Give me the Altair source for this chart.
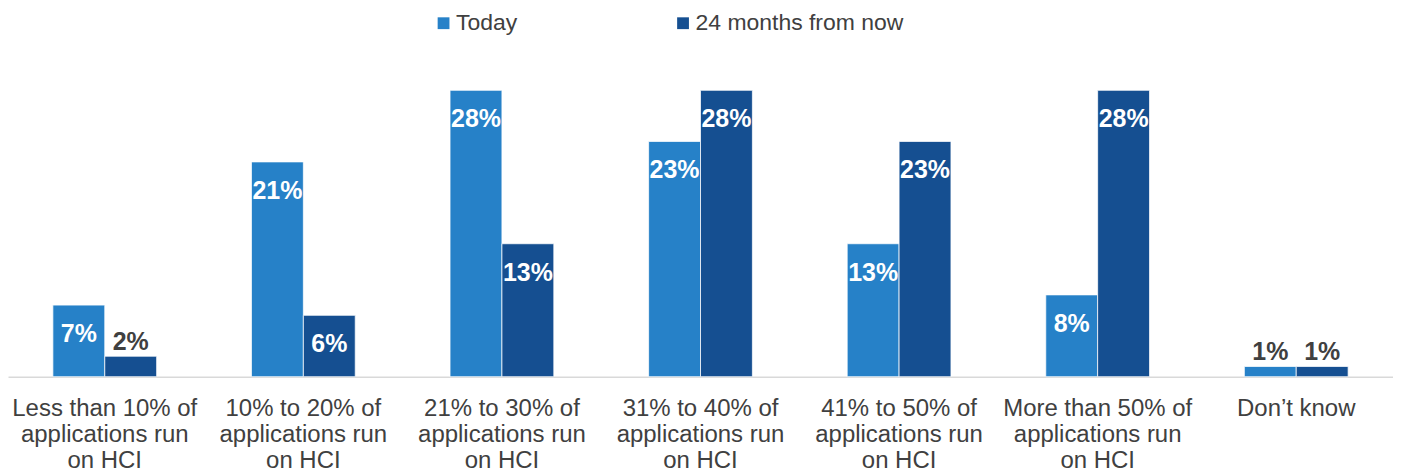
import altair as alt
import pandas as pd

categories = [
    "Less than 10% of|applications run|on HCI",
    "10% to 20% of|applications run|on HCI",
    "21% to 30% of|applications run|on HCI",
    "31% to 40% of|applications run|on HCI",
    "41% to 50% of|applications run|on HCI",
    "More than 50% of|applications run|on HCI",
    "Don\u2019t know",
]
series = ["Today", "24 months from now"]
today = [7, 21, 28, 23, 13, 8, 1]
months24 = [2, 6, 13, 28, 23, 28, 1]
colors = ["#2681C8", "#154F91"]

rows = []
for c, a, b in zip(categories, today, months24):
    rows.append({"cat": c, "series": series[0], "value": a})
    rows.append({"cat": c, "series": series[1], "value": b})
df = pd.DataFrame(rows)
df["label"] = df["value"].astype(str) + "%"

FONT = "Liberation Sans"

x = alt.X(
    "cat:N",
    sort=categories,
    scale=alt.Scale(paddingInner=0.4774, paddingOuter=0.226),
    axis=alt.Axis(
        title=None,
        labelExpr="split(datum.label, '|')",
        labelFontSize=24,
        labelFont=FONT,
        labelColor="#404040",
        labelLineHeight=26,
        labelPadding=20,
        labelBaseline="top",
        labelLimit=0,
        labelAngle=0,
        ticks=False,
        domainColor="#D9D9D9",
        domainWidth=1.5,
    ),
)
xo = alt.XOffset("series:N", sort=series, scale=alt.Scale(paddingInner=0))
y = alt.Y("value:Q", scale=alt.Scale(domain=[0, 28], nice=False), axis=None)

base = alt.Chart(df)

bars = base.mark_bar(stroke="white", strokeWidth=0.75).encode(
    x=x,
    xOffset=xo,
    y=y,
    color=alt.Color(
        "series:N",
        sort=series,
        scale=alt.Scale(domain=series, range=colors),
        legend=alt.Legend(
            title=None,
            orient="none",
            direction="horizontal",
            legendX=425,
            legendY=-79,
            symbolType="square",
            symbolSize=140,
            symbolStrokeWidth=0,
            symbolOpacity=1,
            labelFontSize=23,
            labelFont=FONT,
            labelColor="#404040",
            columnPadding=154,
            labelOffset=1,
            labelLimit=0,
        ),
    ),
)

inside = base.transform_filter("datum.value >= 5").mark_text(
    dy=29, baseline="middle", align="center", fontSize=25, fontWeight="bold",
    font=FONT, color="white"
).encode(x=x, xOffset=xo, y=y, text="label:N")

above = base.transform_filter("datum.value < 5").mark_text(
    dy=-14, baseline="middle", align="center", fontSize=25, fontWeight="bold",
    font=FONT, color="#404040"
).encode(x=x, xOffset=xo, y=y, text="label:N")

chart = (
    alt.layer(bars, inside, above)
    .properties(width=1388, height=287, padding={"top": 3, "left": 0, "right": 0, "bottom": 0})
    .configure_view(stroke=None)
)

chart.save("out.html", embed_options={"renderer": "svg", "actions": False})
